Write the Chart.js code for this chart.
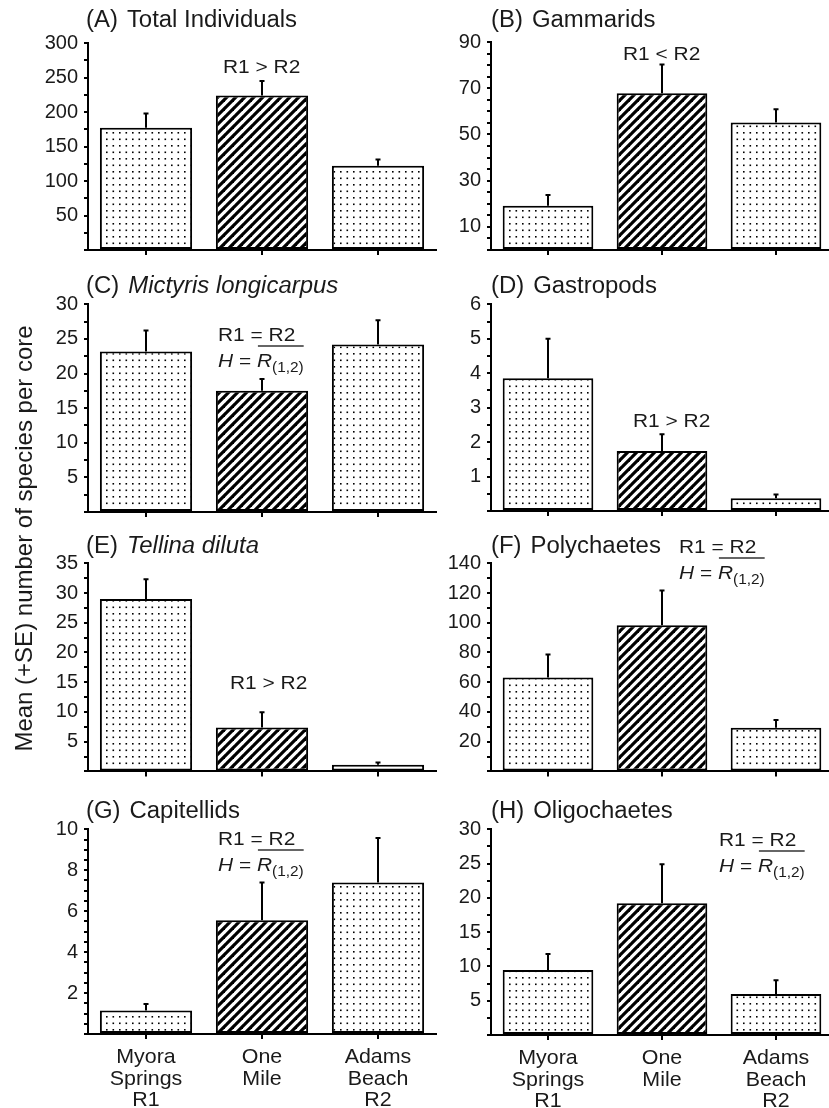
<!DOCTYPE html>
<html>
<head>
<meta charset="utf-8">
<script src="https://cdn.jsdelivr.net/npm/chart.js@4.4.1/dist/chart.umd.min.js"></script>
<style>
  html, body { margin: 0; padding: 0; background: #fff; overflow: hidden; width: 829px; height: 1108px; }
  canvas { position: absolute; left: 0; top: 0; }
</style>
</head>
<body>
<script>
// Sites sampled (x categories)
const siteLabels = [['Myora', 'Springs', 'R1'], ['One', 'Mile'], ['Adams', 'Beach', 'R2']];

// (A) Total individuals
const totalMean = [177, 224, 122];
const totalSE = [21, 21, 9];
const totalTicks = [50, 100, 150, 200, 250, 300];

// (B) Gammarids
const gammMean = [19.2, 67.8, 55.2];
const gammSE = [4.6, 12.5, 5.7];
const gammTicks = [10, 30, 50, 70, 90];

// (C) Mictyris longicarpus
const mictMean = [23.2, 17.5, 24.2];
const mictSE = [3.0, 1.7, 3.5];
const mictTicks = [5, 10, 15, 20, 25, 30];

// (D) Gastropods
const gastMean = [3.85, 1.74, 0.37];
const gastSE = [1.15, 0.49, 0.11];
const gastTicks = [1, 2, 3, 4, 5, 6];

// (E) Tellina diluta
const tellMean = [29.0, 7.4, 1.1];
const tellSE = [3.3, 2.55, 0.4];
const tellTicks = [5, 10, 15, 20, 25, 30, 35];

// (F) Polychaetes
const polyMean = [63.1, 98.4, 29.4];
const polySE = [15.5, 23.3, 5.2];
const polyTicks = [20, 40, 60, 80, 100, 120, 140];

// (G) Capitellids
const capiMean = [1.15, 5.56, 7.4];
const capiSE = [0.31, 1.84, 2.18];
const capiTicks = [2, 4, 6, 8, 10];

// (H) Oligochaetes
const oligMean = [9.47, 19.2, 5.98];
const oligSE = [2.33, 5.7, 2.0];
const oligTicks = [5, 10, 15, 20, 25, 30];

const yTitle = 'Mean (+SE) number of species per core';

const FONT = "'Liberation Sans', Arial, Helvetica, sans-serif";
const INK = '#1a1a1a';
const PAGE_W = 840, PAGE_H = 1108;
const COLS = [{ left: 88, right: 436, titleX: 86 }, { left: 491, right: 833, titleX: 491 }];
const Y_AXIS_W = 60, X_AXIS_H = 10;

const panels = [
  { tag: '(A)', name: 'Total Individuals', italic: false, mean: totalMean, se: totalSE, ticks: totalTicks, max: 300, minor: 25,
    col: 0, top: 43, bottom: 250, titleBase: 27, note: { kind: 'cmp', text: 'R1 > R2', x: 223, y: 73.3 } },
  { tag: '(B)', name: 'Gammarids', italic: false, mean: gammMean, se: gammSE, ticks: gammTicks, max: 90, minor: 5,
    col: 1, top: 42, bottom: 250, titleBase: 27, note: { kind: 'cmp', text: 'R1 < R2', x: 623, y: 60 } },
  { tag: '(C)', name: 'Mictyris longicarpus', italic: true, mean: mictMean, se: mictSE, ticks: mictTicks, max: 30, minor: 2.5,
    col: 0, top: 304.3, bottom: 512, titleBase: 292.5, note: { kind: 'eq', x: 218, y: 341 } },
  { tag: '(D)', name: 'Gastropods', italic: false, mean: gastMean, se: gastSE, ticks: gastTicks, max: 6, minor: 0.5,
    col: 1, top: 304.3, bottom: 511, titleBase: 292.5, note: { kind: 'cmp', text: 'R1 > R2', x: 633, y: 426.7 } },
  { tag: '(E)', name: 'Tellina diluta', italic: true, mean: tellMean, se: tellSE, ticks: tellTicks, max: 35, minor: 2.5,
    col: 0, top: 563.3, bottom: 771.4, titleBase: 553, note: { kind: 'cmp', text: 'R1 > R2', x: 230, y: 689.3 } },
  { tag: '(F)', name: 'Polychaetes', italic: false, mean: polyMean, se: polySE, ticks: polyTicks, max: 140, minor: 10,
    col: 1, top: 563.3, bottom: 771.4, titleBase: 553, note: { kind: 'eq', x: 679, y: 553 } },
  { tag: '(G)', name: 'Capitellids', italic: false, mean: capiMean, se: capiSE, ticks: capiTicks, max: 10, minor: 0.5,
    col: 0, top: 829.3, bottom: 1034, titleBase: 818, note: { kind: 'eq', x: 218, y: 845 }, xLabels: true },
  { tag: '(H)', name: 'Oligochaetes', italic: false, mean: oligMean, se: oligSE, ticks: oligTicks, max: 30, minor: 2.5,
    col: 1, top: 829.3, bottom: 1035, titleBase: 818, note: { kind: 'eq', x: 719, y: 846 }, xLabels: true }
];

// Fill patterns: stippled dots for the reference sites, diagonal hatching for One Mile
function makeDots() {
  const c = document.createElement('canvas');
  c.width = 13; c.height = 13;
  const g = c.getContext('2d');
  g.fillStyle = '#fff'; g.fillRect(0, 0, 13, 13);
  g.fillStyle = '#000';
  [[2, 2], [8.5, 2], [2, 8.5], [8.5, 8.5]].forEach(([x, y]) => g.fillRect(x, y, 1.6, 1.6));
  return g.createPattern(c, 'repeat');
}
function makeHatch() {
  const s = 9;
  const c = document.createElement('canvas');
  c.width = s; c.height = s;
  const g = c.getContext('2d');
  g.fillStyle = '#fff'; g.fillRect(0, 0, s, s);
  g.strokeStyle = '#000'; g.lineWidth = 3.2;
  for (let k = -1; k <= 1; k++) {
    g.beginPath();
    g.moveTo(k * s - 2, s + 2);
    g.lineTo(k * s + s + 2, -2);
    g.stroke();
  }
  return g.createPattern(c, 'repeat');
}
const DOTS = makeDots();
const HATCH = makeHatch();

function drawText(ctx, str, x, y, size, opts) {
  const o = Object.assign({ italic: false, sx: 1, align: 'left', color: INK }, opts || {});
  ctx.save();
  ctx.font = (o.italic ? 'italic ' : '') + size + 'px ' + FONT;
  ctx.fillStyle = o.color;
  ctx.textAlign = o.align;
  ctx.textBaseline = 'alphabetic';
  ctx.translate(x, y);
  ctx.scale(o.sx, 1);
  ctx.fillText(str, 0, 0);
  const w = ctx.measureText(str).width * o.sx;
  ctx.restore();
  return w;
}

// Statistical note: "R1 = R2" over "H = R̄(1,2)"
function drawEqualNote(ctx, x, y) {
  const size = 19, sx = 1.1;
  drawText(ctx, 'R1 = R2', x, y, size, { sx });
  const y2 = y + 26;
  let cx = x;
  cx += drawText(ctx, 'H', cx, y2, size, { italic: true, sx });
  cx += drawText(ctx, ' = ', cx, y2, size, { sx });
  const rStart = cx;
  cx += drawText(ctx, 'R', cx, y2, size, { italic: true, sx });
  cx += drawText(ctx, '(1,2)', cx, y2 + 5, 14, { sx });
  ctx.save();
  ctx.strokeStyle = '#333';
  ctx.lineWidth = 1.5;
  ctx.beginPath();
  ctx.moveTo(rStart + 1, y + 5);
  ctx.lineTo(cx, y + 5);
  ctx.stroke();
  ctx.restore();
}

function makeChart(p, index) {
  const canvas = document.createElement('canvas');
  canvas.width = PAGE_W; canvas.height = PAGE_H;
  canvas.style.width = PAGE_W + 'px'; canvas.style.height = PAGE_H + 'px';
  document.body.appendChild(canvas);

  const col = COLS[p.col];
  const tickValues = [];
  for (let v = 0; v <= p.max + 1e-9; v += p.minor) tickValues.push(Math.round(v * 1000) / 1000);

  const errorBars = {
    id: 'errorBars',
    afterDatasetsDraw(chart) {
      const ctx = chart.ctx;
      const y = chart.scales.y;
      const meta = chart.getDatasetMeta(0);
      ctx.save();
      ctx.strokeStyle = '#000';
      ctx.lineWidth = 2;
      meta.data.forEach((bar, i) => {
        const yBar = y.getPixelForValue(p.mean[i]);
        const yTop = y.getPixelForValue(p.mean[i] + p.se[i]);
        ctx.beginPath();
        ctx.moveTo(bar.x, yBar);
        ctx.lineTo(bar.x, yTop);
        ctx.moveTo(bar.x - 2.5, yTop);
        ctx.lineTo(bar.x + 2.5, yTop);
        ctx.stroke();
      });
      ctx.restore();
    }
  };

  const decorations = {
    id: 'decorations',
    afterDraw(chart) {
      const ctx = chart.ctx;
      // panel heading
      const w = drawText(ctx, p.tag, col.titleX, p.titleBase, 23, { sx: 1.04 });
      drawText(ctx, p.name, col.titleX + w + 9, p.titleBase, 23, { sx: 1.04, italic: p.italic });
      // comparison note
      if (p.note.kind === 'cmp') drawText(ctx, p.note.text, p.note.x, p.note.y, 19, { sx: 1.1 });
      else drawEqualNote(ctx, p.note.x, p.note.y);
      // site names under the bottom row
      if (p.xLabels) {
        const xs = chart.scales.x;
        siteLabels.forEach((lines, i) => {
          const cx = xs.getPixelForValue(i);
          lines.forEach((t, k) => drawText(ctx, t, cx, p.bottom + 29.3 + k * 21.5, 21, { align: 'center', sx: 1.02 }));
        });
      }
      // shared y-axis title
      if (index === 0) {
        ctx.save();
        ctx.translate(31.5, 538.5);
        ctx.rotate(-Math.PI / 2);
        ctx.font = '24px ' + FONT;
        ctx.fillStyle = INK;
        ctx.textAlign = 'center';
        ctx.textBaseline = 'alphabetic';
        ctx.fillText(yTitle, 0, 0);
        ctx.restore();
      }
    }
  };

  return new Chart(canvas, {
    type: 'bar',
    data: {
      labels: siteLabels.map(l => l.join(' ')),
      datasets: [{
        data: p.mean,
        backgroundColor: [DOTS, HATCH, DOTS],
        borderColor: '#000',
        borderWidth: 2,
        borderSkipped: false,
        barPercentage: 0.795,
        categoryPercentage: 1
      }]
    },
    options: {
      responsive: false,
      animation: false,
      events: [],
      layout: {
        padding: {
          left: col.left - Y_AXIS_W,
          right: PAGE_W - col.right,
          top: p.top,
          bottom: PAGE_H - p.bottom - X_AXIS_H
        }
      },
      plugins: { legend: { display: false }, tooltip: { enabled: false }, title: { display: false } },
      scales: {
        x: {
          type: 'category',
          offset: true,
          afterFit(s) { s.height = X_AXIS_H; },
          grid: { offset: false, drawOnChartArea: false, drawTicks: true, tickLength: 5, color: '#000', lineWidth: 2 },
          border: { display: true, color: '#000', width: 2 },
          ticks: { display: false }
        },
        y: {
          min: 0,
          max: p.max,
          afterBuildTicks(s) { s.ticks = tickValues.map(v => ({ value: v })); },
          afterFit(s) { s.width = Y_AXIS_W; },
          grid: { drawOnChartArea: false, drawTicks: true, tickLength: 4, color: '#000', lineWidth: 2 },
          border: { display: true, color: '#000', width: 2 },
          ticks: {
            autoSkip: false,
            padding: 6,
            color: INK,
            font: { family: FONT, size: 20 },
            callback: (v) => (p.ticks.includes(v) ? String(v) : '')
          }
        }
      }
    },
    plugins: [errorBars, decorations]
  });
}

panels.forEach((p, i) => makeChart(p, i));
</script>
</body>
</html>
